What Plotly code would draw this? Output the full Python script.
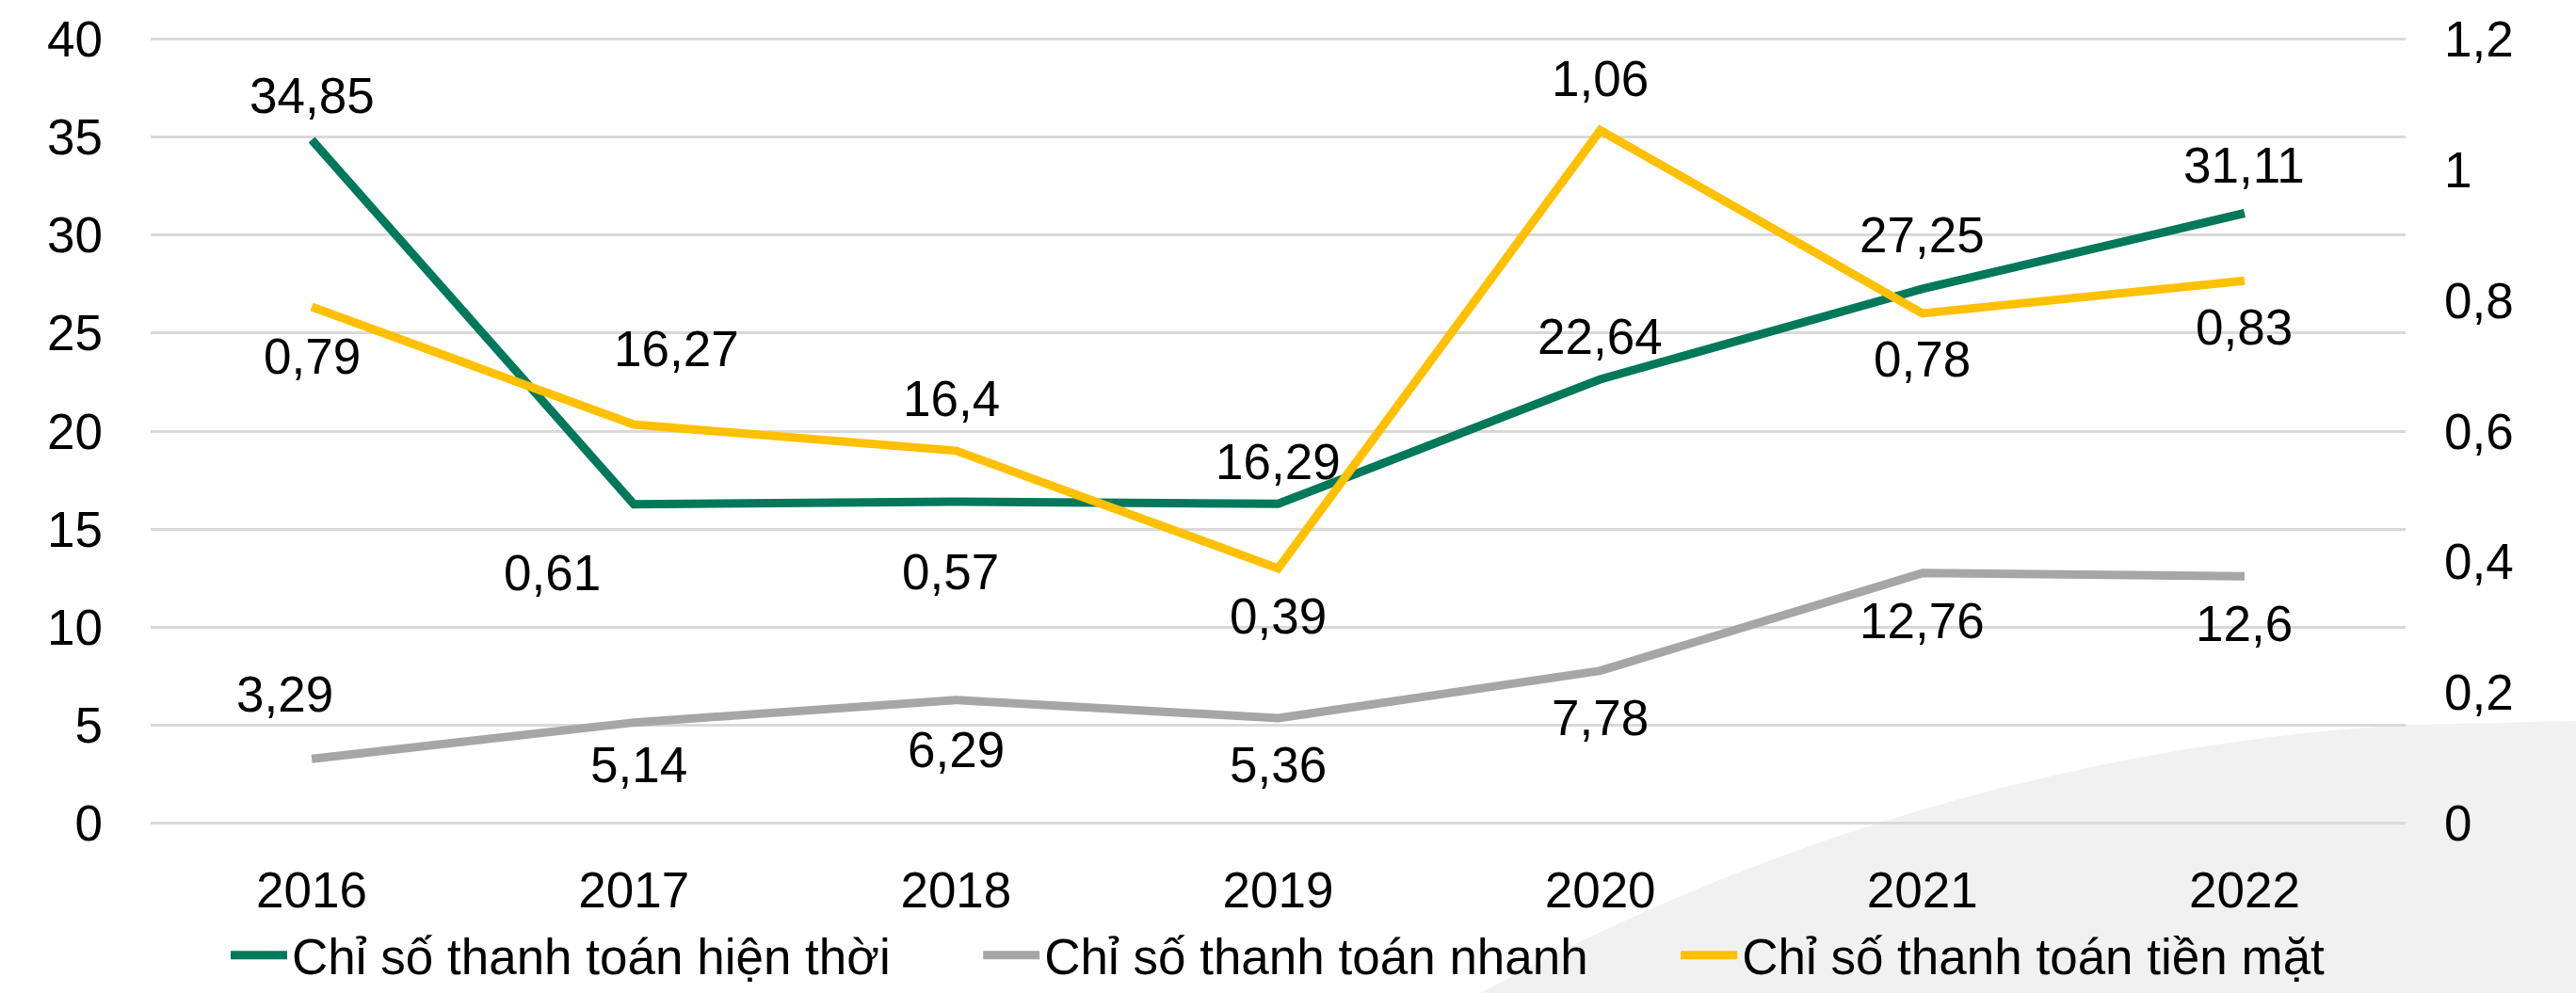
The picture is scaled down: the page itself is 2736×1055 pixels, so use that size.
import plotly.graph_objects as go

# data
years = ['2016', '2017', '2018', '2019', '2020', '2021', '2022']
hien_thoi = [34.85, 16.27, 16.4, 16.29, 22.64, 27.25, 31.11]   # left axis
nhanh = [3.29, 5.14, 6.29, 5.36, 7.78, 12.76, 12.6]           # left axis
tien_mat = [0.79, 0.61, 0.57, 0.39, 1.06, 0.78, 0.83]         # right axis

names = ['Chỉ số thanh toán hiện thời', 'Chỉ số thanh toán nhanh', 'Chỉ số thanh toán tiền mặt']
colors = ['#00785A', '#A6A6A6', '#FFC000']

# label offsets in px (dx, dy), placed by hand like the original
off_hien_thoi = [(0, 47), (45, 165), (-5, 110), (0, 45), (0, 45), (0, 57), (0, 51)]
off_nhanh = [(-29, 69), (5, -45), (0, -53), (0, -49), (0, -50), (0, -51), (0, -50)]
off_tien_mat = [(0, -52), (-87, -157), (-6, -129), (0, -51), (0, 55), (0, -49), (0, -49)]

W, H = 2736, 1055
L, R, T, B = 160, 181, 40, 179
FONT = 'Liberation Sans, Arial, sans-serif'
FS = 53
GAP = '\u00a0' * 6

fig = go.Figure()
fig.add_trace(go.Scatter(x=years, y=hien_thoi, name=names[0] + GAP, mode='lines',
                         line=dict(color=colors[0], width=9), yaxis='y'))
fig.add_trace(go.Scatter(x=years, y=nhanh, name=names[1] + GAP, mode='lines',
                         line=dict(color=colors[1], width=9), yaxis='y'))
fig.add_trace(go.Scatter(x=years, y=tien_mat, name=names[2], mode='lines',
                         line=dict(color=colors[2], width=9), yaxis='y2'))


def fmt(v):
    return ('%g' % v).replace('.', ',')


annots = []
for vals, offs, yr in [(hien_thoi, off_hien_thoi, 'y'), (nhanh, off_nhanh, 'y'),
                       (tien_mat, off_tien_mat, 'y2')]:
    # category index as x: numeric-looking names would be read as positions
    for i, (v, (dx, dy)) in enumerate(zip(vals, offs)):
        annots.append(dict(x=i, y=v, xref='x', yref=yr, text=fmt(v), showarrow=False,
                           xshift=dx, yshift=dy, font=dict(size=FS, color='black', family=FONT)))


# light grey swoosh in the lower right corner (pixel -> paper)
def pp(x, y):
    return '%.4f,%.4f' % ((x - L) / (W - L - R), (H - B - y) / (H - T - B))


path = ('M ' + pp(1560, 1062) +
        ' C ' + pp(1850, 900) + ' ' + pp(2200, 790) + ' ' + pp(2558, 770) +
        ' L ' + pp(2740, 766) + ' L ' + pp(2740, 1062) + ' Z')

fig.update_layout(
    width=W, height=H,
    margin=dict(l=L, r=R, t=T, b=B, autoexpand=False),
    paper_bgcolor='white', plot_bgcolor='rgba(0,0,0,0)',
    separators=',.',
    font=dict(family=FONT, size=FS, color='black'),
    shapes=[dict(type='path', xref='paper', yref='paper', path=path,
                 fillcolor='#F1F1F1', line=dict(width=0), layer='below')],
    annotations=annots,
    xaxis=dict(type='category', range=[-0.5, 6.5], showgrid=False, zeroline=False,
               showline=False, ticks='', ticklabelstandoff=34, tickfont=dict(size=FS)),
    yaxis=dict(range=[-0.06, 40.06], tickvals=[0, 5, 10, 15, 20, 25, 30, 35, 40],
               showgrid=True, gridcolor='#D9D9D9', gridwidth=3,
               zeroline=False, showline=False, ticks='', ticklabelstandoff=50,
               tickfont=dict(size=FS)),
    yaxis2=dict(range=[-0.0018, 1.2018], tickvals=[0, 0.2, 0.4, 0.6, 0.8, 1, 1.2],
                overlaying='y', side='right', showgrid=False,
                zeroline=False, showline=False, ticks='', ticklabelstandoff=40,
                tickfont=dict(size=FS)),
    legend=dict(orientation='h', x=0.5, xanchor='center', y=-0.166, yanchor='middle',
                font=dict(size=53), bgcolor='rgba(0,0,0,0)', itemwidth=60),
    showlegend=True,
)

# drop the browser's default page margin so the figure fills the window exactly
fig.write_html('out.html', config={'displayModeBar': False},
               post_script="document.body.style.margin='0px';")
